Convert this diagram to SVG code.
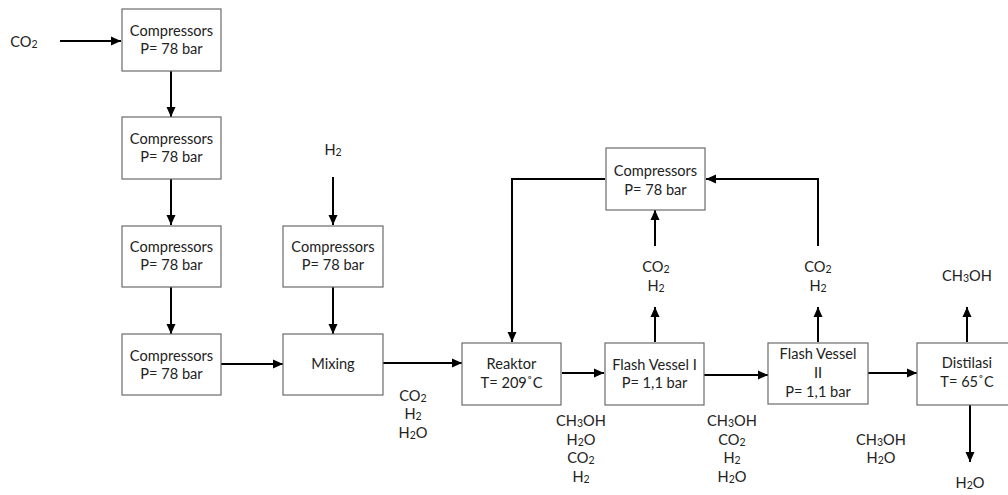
<svg xmlns="http://www.w3.org/2000/svg" width="1008" height="495" viewBox="0 0 1008 495">
<defs>
<marker id="ah" markerWidth="10" markerHeight="10" refX="10" refY="5" orient="auto" markerUnits="userSpaceOnUse">
<path d="M0,0.5 L10,5 L0,9.5 z" fill="#000"/>
</marker>
<style>
.box{fill:#fff;stroke:#6b6b6b;stroke-width:1.2}
.t{font-family:Lato,"Liberation Sans",sans-serif;font-size:14.6px;fill:#222;text-anchor:middle}
.c{fill:none;stroke:#000;stroke-width:2;marker-end:url(#ah)}
.s{font-size:10.5px}
</style>
</defs>
<rect width="1008" height="495" fill="#fff"/>
<g id="connectors">
<line class="c" x1="60" y1="41" x2="121" y2="41"/>
<line class="c" x1="171" y1="71" x2="171" y2="117"/>
<line class="c" x1="171" y1="179" x2="171" y2="225"/>
<line class="c" x1="171" y1="287" x2="171" y2="334"/>
<line class="c" x1="333" y1="177" x2="333" y2="225"/>
<line class="c" x1="333" y1="287" x2="333" y2="334"/>
<line class="c" x1="221" y1="364" x2="283" y2="364"/>
<line class="c" x1="383" y1="363" x2="462" y2="363"/>
<line class="c" x1="562" y1="373" x2="604" y2="373"/>
<line class="c" x1="704" y1="375" x2="768" y2="375"/>
<line class="c" x1="868" y1="373" x2="917" y2="373"/>
<polyline class="c" points="605,179 512,179 512,342"/>
<polyline class="c" points="818,246 818,179 706,179"/>
<line class="c" x1="655" y1="246" x2="655" y2="210"/>
<line class="c" x1="655" y1="342" x2="655" y2="307"/>
<line class="c" x1="818" y1="342" x2="818" y2="307"/>
<line class="c" x1="967" y1="342" x2="967" y2="307"/>
<line class="c" x1="970" y1="404" x2="970" y2="462"/>
</g>
<g id="comp1"><rect class="box" x="122" y="9" width="99" height="62"/><text class="t" x="171.5" y="36">Compressors</text><text class="t" x="171.5" y="54">P= 78 bar</text></g>
<g id="comp2"><rect class="box" x="122" y="117" width="99" height="62"/><text class="t" x="171.5" y="144">Compressors</text><text class="t" x="171.5" y="162">P= 78 bar</text></g>
<g id="comp3"><rect class="box" x="122" y="226" width="99" height="61"/><text class="t" x="171.5" y="252">Compressors</text><text class="t" x="171.5" y="270">P= 78 bar</text></g>
<g id="comp4"><rect class="box" x="122" y="334" width="99" height="61"/><text class="t" x="171.5" y="361">Compressors</text><text class="t" x="171.5" y="379">P= 78 bar</text></g>
<g id="compH2"><rect class="box" x="283" y="226" width="100" height="61"/><text class="t" x="333" y="252">Compressors</text><text class="t" x="333" y="270">P= 78 bar</text></g>
<g id="mixing"><rect class="box" x="283" y="334" width="100" height="61"/><text class="t" x="333" y="369">Mixing</text></g>
<g id="reaktor"><rect class="box" x="462" y="343" width="99" height="62"/><text class="t" x="511.5" y="369">Reaktor</text><text class="t" x="511.5" y="388">T= 209˚C</text></g>
<g id="flash1"><rect class="box" x="605" y="343" width="99" height="62"/><text class="t" x="654.5" y="370">Flash Vessel I</text><text class="t" x="654.5" y="388">P= 1,1 bar</text></g>
<g id="flash2"><rect class="box" x="768" y="343" width="100" height="61"/><text class="t" x="818" y="359">Flash Vessel</text><text class="t" x="818" y="378">II</text><text class="t" x="818" y="397">P= 1,1 bar</text></g>
<g id="distilasi"><rect class="box" x="917" y="343" width="100" height="62"/><text class="t" x="967" y="368">Distilasi</text><text class="t" x="967" y="387">T= 65˚C</text></g>
<g id="compTop"><rect class="box" x="606" y="148" width="99" height="62"/><text class="t" x="655.5" y="176">Compressors</text><text class="t" x="655.5" y="195">P= 78 bar</text></g>
<g id="labels">
<text class="t" x="24" y="47">CO<tspan class="s" dy="1">2</tspan></text>
<text class="t" x="333" y="155">H<tspan class="s" dy="1">2</tspan></text>
<text class="t" x="413" y="401">CO<tspan class="s" dy="1">2</tspan></text>
<text class="t" x="413" y="419">H<tspan class="s" dy="1">2</tspan></text>
<text class="t" x="413" y="438">H<tspan class="s" dy="1">2</tspan><tspan dy="-1">O</tspan></text>
<text class="t" x="581" y="426">CH<tspan class="s" dy="1">3</tspan><tspan dy="-1">OH</tspan></text>
<text class="t" x="581" y="445">H<tspan class="s" dy="1">2</tspan><tspan dy="-1">O</tspan></text>
<text class="t" x="581" y="463">CO<tspan class="s" dy="1">2</tspan></text>
<text class="t" x="581" y="482">H<tspan class="s" dy="1">2</tspan></text>
<text class="t" x="732" y="426">CH<tspan class="s" dy="1">3</tspan><tspan dy="-1">OH</tspan></text>
<text class="t" x="732" y="445">CO<tspan class="s" dy="1">2</tspan></text>
<text class="t" x="732" y="463">H<tspan class="s" dy="1">2</tspan></text>
<text class="t" x="732" y="482">H<tspan class="s" dy="1">2</tspan><tspan dy="-1">O</tspan></text>
<text class="t" x="881" y="445">CH<tspan class="s" dy="1">3</tspan><tspan dy="-1">OH</tspan></text>
<text class="t" x="881" y="463">H<tspan class="s" dy="1">2</tspan><tspan dy="-1">O</tspan></text>
<text class="t" x="656" y="272">CO<tspan class="s" dy="1">2</tspan></text>
<text class="t" x="656" y="291">H<tspan class="s" dy="1">2</tspan></text>
<text class="t" x="818" y="272">CO<tspan class="s" dy="1">2</tspan></text>
<text class="t" x="818" y="291">H<tspan class="s" dy="1">2</tspan></text>
<text class="t" x="967" y="281">CH<tspan class="s" dy="1">3</tspan><tspan dy="-1">OH</tspan></text>
<text class="t" x="970" y="488">H<tspan class="s" dy="1">2</tspan><tspan dy="-1">O</tspan></text>
</g>
</svg>
